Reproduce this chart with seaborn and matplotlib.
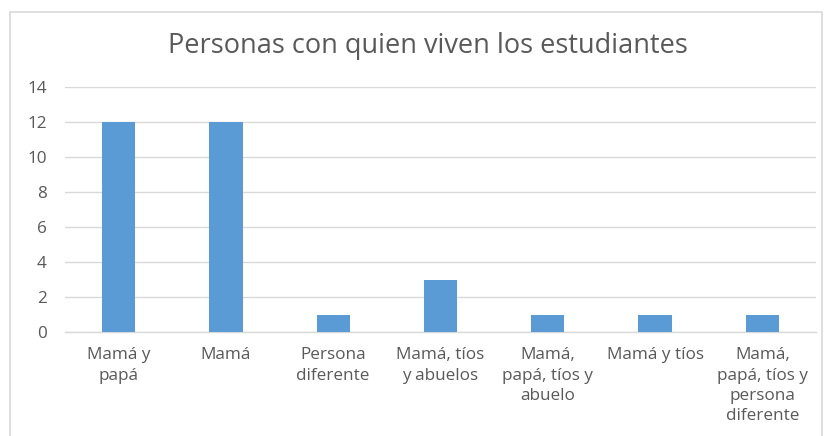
import matplotlib
matplotlib.use("Agg")
import matplotlib.pyplot as plt
import seaborn as sns
import pandas as pd
from matplotlib.patches import Rectangle

# ─────────────────────────────────────────────
# Data
# ─────────────────────────────────────────────
categorias = [
    "Mamá y\npapá",
    "Mamá",
    "Persona\ndiferente",
    "Mamá, tíos\ny abuelos",
    "Mamá,\npapá, tíos y\nabuelo",
    "Mamá y tíos",
    "Mamá,\npapá, tíos y\npersona\ndiferente",
]
estudiantes = [12, 12, 1, 3, 1, 1, 1]
y_ticks = [0, 2, 4, 6, 8, 10, 12, 14]

titulo = "Personas con quien viven los estudiantes"

# ─────────────────────────────────────────────
# Plot
# ─────────────────────────────────────────────
sns.set_theme(style="white")
plt.rcParams["font.family"] = ["Open Sans", "DejaVu Sans"]

texto = "#595959"
rejilla = "#D9D9D9"

df = pd.DataFrame({"categoria": categorias, "valor": estudiantes})

fig = plt.figure(figsize=(8.27, 4.36), dpi=100)
ax = fig.add_axes([0.0786, 0.2385, 0.908, 0.562])

sns.barplot(data=df, x="categoria", y="valor", color="#5B9BD5",
            width=0.31, saturation=1, ax=ax, zorder=3, linewidth=0)

ax.set_ylim(0, 14)
ax.set_xlim(-0.5, len(categorias) - 0.5)
ax.set_yticks(y_ticks)
ax.yaxis.grid(True, color=rejilla, linewidth=1, zorder=0)
ax.set_xlabel("")
ax.set_ylabel("")
for side in ["top", "right", "left"]:
    ax.spines[side].set_visible(False)
ax.spines["bottom"].set_color(rejilla)
ax.spines["bottom"].set_linewidth(1)
ax.tick_params(axis="both", length=0, labelsize=12.3, colors=texto)
ax.tick_params(axis="y", pad=13)
ax.tick_params(axis="x", pad=11)
for lbl in ax.get_xticklabels():
    lbl.set_linespacing(1.36)

fig.text(0.518, 0.895, titulo, ha="center", va="center",
         fontsize=19.5, color=texto)

# borde del gráfico
fig.patches.append(Rectangle((10 / 827, -0.05), 812 / 827, 1.05 - 12 / 436,
                             transform=fig.transFigure, fill=False,
                             edgecolor="#D9D9D9", linewidth=1.2))

fig.savefig("out.png", dpi=100)
